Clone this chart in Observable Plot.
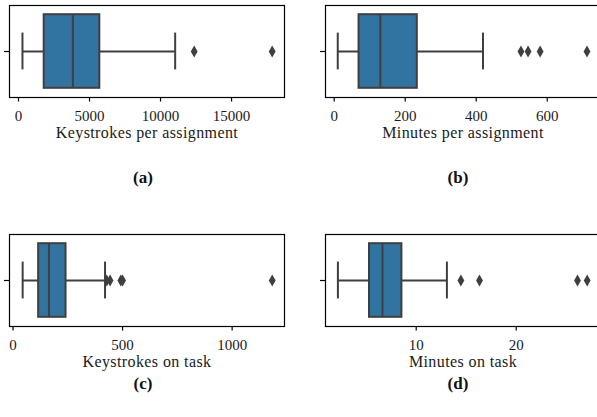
<!DOCTYPE html>
<html>
<head>
<meta charset="utf-8">
<script src="https://cdn.jsdelivr.net/npm/d3@7"></script>
<script src="https://cdn.jsdelivr.net/npm/@observablehq/plot@0.6"></script>
<style>
  html, body { margin: 0; padding: 0; background: #fff; overflow: hidden; }
  #wrap { position: relative; width: 597px; height: 417px; overflow: hidden; }
  .panel { position: absolute; }
  .cap { position: absolute; font-family: "Liberation Serif", serif; font-weight: bold; font-size: 17px; transform: translate(-50%, -50%); white-space: nowrap; color: #111; }
</style>
</head>
<body>
<div id="wrap"></div>
<script>
// Panel data
const panelNames = ["Keystrokes per assignment", "Minutes per assignment", "Keystrokes on task", "Minutes on task"];
const captions = ["(a)", "(b)", "(c)", "(d)"];
const q1 = [1810, 70, 117, 5.33];
const medians = [3825, 130, 164, 6.63];
const q3 = [5725, 234, 242, 8.57];
const whiskerLow = [280, 10, 44, 2.17];
const whiskerHigh = [11030, 419, 420, 13.07];
const outliers = [
  [12370, 17860],
  [526, 546, 580, 712],
  [428, 443, 492, 500, 1183],
  [14.47, 16.33, 26.13, 27.1]
];
const xDomains = [[-633, 18727], [-24.5, 750], [-16, 1239], [0.93, 28.43]];
const xTicks = [[0, 5000, 10000, 15000], [0, 200, 400, 600], [0, 500, 1000], [10, 20, 30]];

const layout = [
  {left: 0,   top: 0,   width: 300, ml: 9,  mr: 16},
  {left: 300, top: 0,   width: 310, ml: 25, mr: 10},
  {left: 0,   top: 229, width: 300, ml: 9,  mr: 16},
  {left: 300, top: 229, width: 310, ml: 25, mr: 10}
];
const capPos = [[143, 178], [458, 178], [143, 384], [458, 384]];

const boxFill = "#3274a1";
const gray = "#3f3f3f";
const wrap = document.getElementById("wrap");

for (let i = 0; i < 4; i++) {
  const L = layout[i];
  const stat = [{q1: q1[i], med: medians[i], q3: q3[i], lo: whiskerLow[i], hi: whiskerHigh[i]}];
  const out = outliers[i].map(v => ({v}));
  const chart = Plot.plot({
    width: L.width,
    height: 150,
    marginLeft: L.ml,
    marginRight: L.mr,
    marginTop: 5,
    marginBottom: 53,
    style: {fontFamily: "Liberation Serif, serif", fontSize: "15px", background: "transparent", overflow: "visible"},
    x: {domain: xDomains[i], label: null},
    y: {domain: [-0.5, 0.5], label: null},
    marks: [
      Plot.ruleY(stat, {y: 0, x1: "lo", x2: "q1", stroke: gray, strokeWidth: 2}),
      Plot.ruleY(stat, {y: 0, x1: "q3", x2: "hi", stroke: gray, strokeWidth: 2}),
      Plot.ruleX(stat, {x: "lo", y1: -0.2, y2: 0.2, stroke: gray, strokeWidth: 2}),
      Plot.ruleX(stat, {x: "hi", y1: -0.2, y2: 0.2, stroke: gray, strokeWidth: 2}),
      Plot.rect(stat, {x1: "q1", x2: "q3", y1: -0.4, y2: 0.4, fill: boxFill, stroke: gray, strokeWidth: 2}),
      Plot.ruleX(stat, {x: "med", y1: -0.4, y2: 0.4, stroke: gray, strokeWidth: 2}),
      Plot.dot(out, {x: "v", y: 0, symbol: "diamond", r: 3.6, fill: gray, stroke: "none"}),
      Plot.frame({stroke: "#000", strokeWidth: 1.2}),
      Plot.axisX({ticks: xTicks[i].filter(t => t >= xDomains[i][0] && t <= xDomains[i][1]), tickSize: 4.5, tickPadding: 8, label: null, tickFormat: d => String(d), stroke: "#000", strokeWidth: 1.2, fill: "#1a1a1a"}),
      Plot.axisY({ticks: [0], tickSize: 5, tickFormat: () => "", label: null, stroke: "#000", strokeWidth: 1.2}),
      Plot.text([panelNames[i]], {frameAnchor: "bottom", dy: 40, text: d => d, fontSize: 16, fill: "#1a1a1a"})
    ]
  });
  chart.classList.add("panel");
  chart.style.left = L.left + "px";
  chart.style.top = L.top + "px";
  chart.querySelectorAll("text").forEach(t => {
    if (t.textContent === panelNames[i]) t.style.letterSpacing = "0.4px";
  });
  wrap.appendChild(chart);

  const cap = document.createElement("div");
  cap.className = "cap";
  cap.textContent = captions[i];
  cap.style.left = capPos[i][0] + "px";
  cap.style.top = capPos[i][1] + "px";
  wrap.appendChild(cap);
}
</script>
</body>
</html>
